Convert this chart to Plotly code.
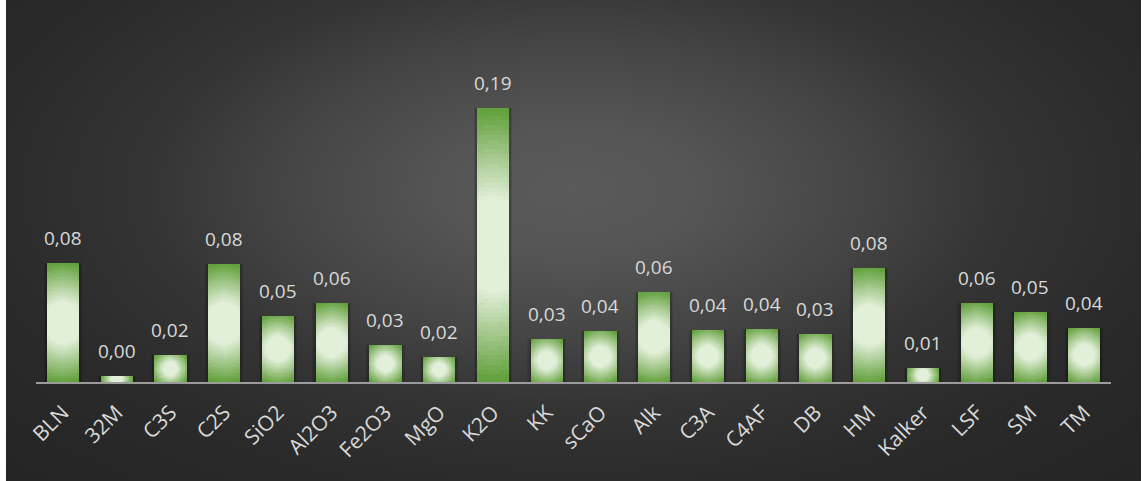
import math
import plotly.graph_objects as go

# ---- data -------------------------------------------------------------
categories = ["BLN", "32M", "C3S", "C2S", "SiO2", "Al2O3", "Fe2O3", "MgO", "K2O", "KK",
              "sCaO", "Alk", "C3A", "C4AF", "DB", "HM", "Kalker", "LSF", "SM", "TM"]
values = [0.0838, 0.0045, 0.0187, 0.0831, 0.0468, 0.0556, 0.0261, 0.0176, 0.1930, 0.0303,
          0.0359, 0.0634, 0.0366, 0.0373, 0.0338, 0.0803, 0.0099, 0.0556, 0.0493, 0.0380]
value_labels = [f"{v:.2f}".replace(".", ",") for v in values]

# ---- layout geometry (pixels) ----------------------------------------
FIG_W, FIG_H = 1146, 481
CARD_X0, CARD_X1 = 6, 1141
PLOT_X0, PLOT_X1 = 36, 1111
PLOT_Y_TOP, PLOT_Y_BASE = 98, 382
Y_MAX = 0.2
BAR_W = 0.6

x_dom = [PLOT_X0 / FIG_W, PLOT_X1 / FIG_W]
y_dom = [(FIG_H - PLOT_Y_BASE) / FIG_H, (FIG_H - PLOT_Y_TOP) / FIG_H]
px_per_cat = (PLOT_X1 - PLOT_X0) / len(categories)
px_per_unit = (PLOT_Y_BASE - PLOT_Y_TOP) / Y_MAX

GREEN = (0x62, 0xA0, 0x3C)
LIGHT = (0xE2, 0xEF, 0xD9)
FONT = "Open Sans"
TEXT_COLOR = "#d9d9d9"


def mix(c0, c1, t):
    return "rgb({},{},{})".format(*[round(a + (b - a) * t) for a, b in zip(c0, c1)])


fig = go.Figure()

# ---- card background: radial grey gradient ---------------------------
cx, cy = 0.5, (FIG_H - 190) / FIG_H
ax, ay = 0.75, 0.9
fig.add_trace(go.Scatter(
    x=[cx - ax, cx + ax, cx + ax, cx - ax, cx - ax],
    y=[cy - ay, cy - ay, cy + ay, cy + ay, cy - ay],
    mode="lines", fill="toself", line=dict(width=0),
    fillgradient=dict(type="radial", colorscale=[
        [0.0, "#5a5a5a"], [0.15, "#555555"], [0.35, "#444444"],
        [0.5, "#343434"], [0.7, "#2a2a2a"], [1.0, "#232323"]]),
    hoverinfo="skip", showlegend=False, xaxis="x", yaxis="y",
))

# ---- bar shadows -----------------------------------------------------
for w, a in [(0.72, 0.10), (0.67, 0.15)]:
    fig.add_trace(go.Bar(
        x=categories, y=values, width=[w] * len(values),
        marker=dict(color=f"rgba(0,0,0,{a})", line=dict(width=0)),
        hoverinfo="skip", showlegend=False, xaxis="x2", yaxis="y2",
    ))

# ---- bars: green edge, light centre ----------------------------------
fig.add_trace(go.Bar(
    x=categories, y=values, width=[BAR_W] * len(values),
    marker=dict(color=mix(GREEN, LIGHT, 0), line=dict(width=0)),
    hovertemplate="%{x}: %{y:.3f}<extra></extra>", showlegend=False,
    xaxis="x2", yaxis="y2",
))

# concentric shading layers; each disc level is built from a few stacked
# rectangles whose corners sit on the circle (angles rotate per level so the
# steps do not line up into rays)
RHO_IN = 0.35
N_LEVELS = 30
N_ANG = 6
wp = BAR_W * px_per_cat
for k in range(1, N_LEVELS + 1):
    rho = 1 - (1 - RHO_IN) * k / N_LEVELS
    color = mix(GREEN, LIGHT, k / N_LEVELS)
    phase = (k * 0.618034) % 1.0
    for j in range(N_ANG):
        th = math.radians(90 * (j + phase) / N_ANG)
        th = min(max(th, math.radians(3)), math.radians(87))
        bases, heights, widths = [], [], []
        for v in values:
            hp = v * px_per_unit
            r = rho * math.hypot(wp / 2, hp / 2)
            hw = min(wp / 2, r * math.cos(th))
            hh = min(hp / 2, r * math.sin(th))
            bases.append(v / 2 - hh / px_per_unit)
            heights.append(2 * hh / px_per_unit)
            widths.append(2 * hw / px_per_cat)
        fig.add_trace(go.Bar(
            x=categories, y=heights, base=bases, width=widths,
            marker=dict(color=color, line=dict(width=0)),
            hoverinfo="skip", showlegend=False, xaxis="x2", yaxis="y2",
        ))

# ---- value labels ----------------------------------------------------
annotations = [
    dict(x=c, y=v, xref="x2", yref="y2", text=t, showarrow=False,
         yanchor="bottom", yshift=10, font=dict(family=FONT, size=19, color=TEXT_COLOR))
    for c, v, t in zip(categories, values, value_labels)
]

fig.update_layout(
    width=FIG_W, height=FIG_H, margin=dict(l=0, r=0, t=0, b=0, pad=0, autoexpand=False),
    paper_bgcolor="white", plot_bgcolor="rgba(0,0,0,0)",
    barmode="overlay", bargap=0, showlegend=False,
    annotations=annotations,
    xaxis=dict(domain=[CARD_X0 / FIG_W, CARD_X1 / FIG_W], range=[0, 1],
               visible=False, fixedrange=True, automargin=False),
    yaxis=dict(domain=[0, 1], range=[0, 1], visible=False, fixedrange=True, automargin=False),
    xaxis2=dict(domain=x_dom, anchor="y2", type="category", range=[-0.5, len(categories) - 0.5],
                showline=True, linecolor="#9b9b9b", linewidth=2, showgrid=False,
                zeroline=False, ticks="", tickangle=-45, ticklabelstandoff=8,
                tickfont=dict(family=FONT, size=21, color=TEXT_COLOR),
                fixedrange=True, automargin=False),
    yaxis2=dict(domain=y_dom, anchor="x2", range=[0, Y_MAX], visible=False,
                fixedrange=True, automargin=False),
)

fig.write_html("out.html")
